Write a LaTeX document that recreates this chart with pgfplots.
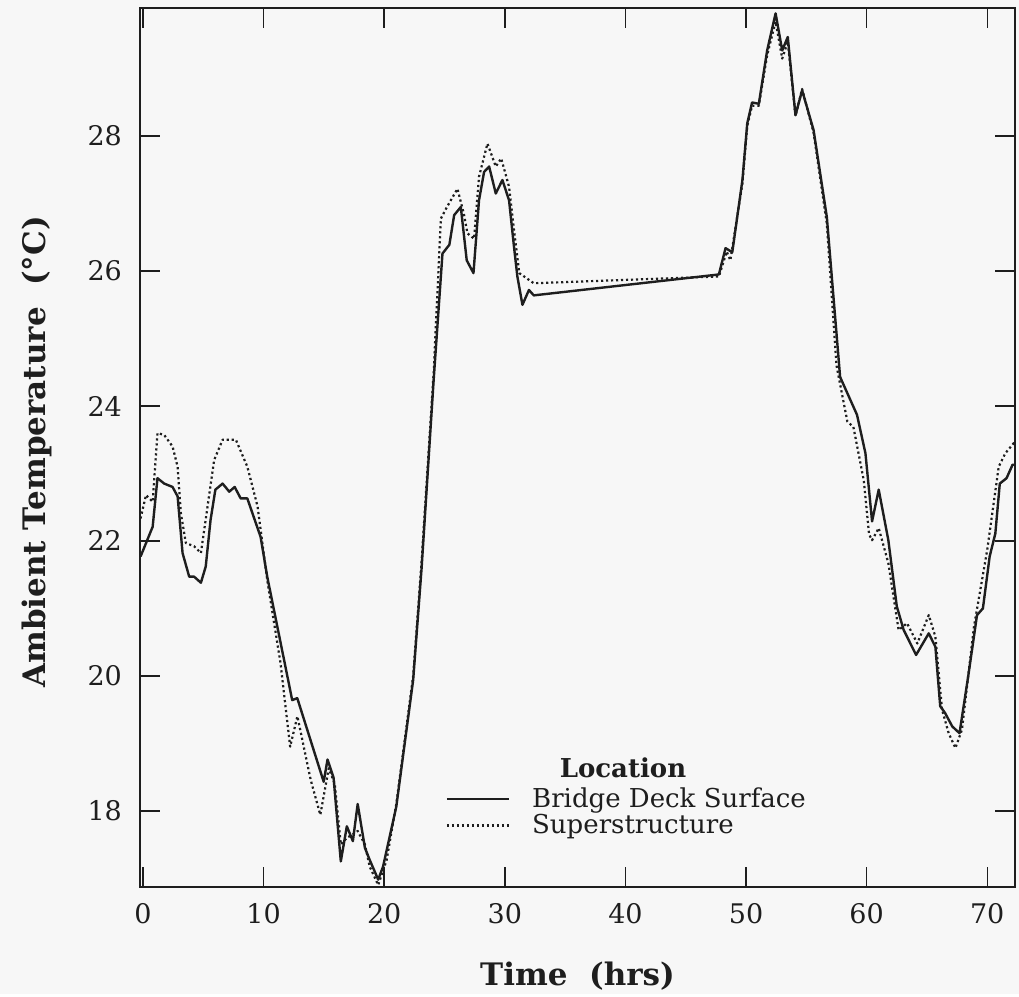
\documentclass[border=0pt]{standalone}
\usepackage{pgfplots}
\pgfplotsset{compat=1.18}
\usepackage{fontspec}
\setmainfont{DejaVu Serif}
\definecolor{bg}{RGB}{247,247,247}
\definecolor{ink}{RGB}{30,30,30}
\begin{document}
\begin{tikzpicture}
\fill[bg] (-70pt,-53.5pt) rectangle (439.5pt,443.5pt);
\begin{axis}[
  scale only axis,
  width=437.5pt, height=439.5pt,
  xmin=-0.25, xmax=72.3,
  ymin=16.87, ymax=29.9,
  xtick={0,10,...,70},
  ytick={18,20,...,28},
  tick align=inside,
  major tick length=10pt,
  every tick/.style={line width=0.75pt, ink},
  axis line style={line width=1.2pt, ink},
  /pgf/number format/assume math mode=true,
  tick label style={font=\fontsize{13.5}{15}\selectfont, ink},
  yticklabel style={xshift=-5.5pt},
  xticklabel style={yshift=-4.5pt},
  xlabel={Time\ \ (hrs)},
  ylabel={Ambient Temperature\ \ (°C)},
  label style={font=\fontsize{15.5}{17}\selectfont\bfseries, ink},
  xlabel style={at={(axis description cs:0.5,0)}, anchor=base, yshift=-49pt},
  ylabel style={at={(axis description cs:0,0.495)}, anchor=base, yshift=47pt},
  clip=true,
  legend image code/.code={\draw[#1] (0pt,0pt) -- (31pt,0pt);},
  legend style={draw=none, fill=none, at={(rel axis cs:0.349,0.118)}, anchor=north west,
    font=\fontsize{13}{14}\selectfont, inner sep=0pt, row sep=-2pt,
    cells={anchor=west}, text=ink,
    /tikz/every odd column/.append style={column sep=9pt}},
]
\addplot[ink, line width=1.2pt, line join=round] coordinates {
(-0.2,21.77) (0.8,22.21) (1.2,22.93) (1.76,22.85) (2.45,22.80) (2.87,22.66)
(3.28,21.82) (3.83,21.47) (4.24,21.47) (4.8,21.38) (5.2,21.62) (5.6,22.31)
(6.0,22.76) (6.6,22.85) (7.15,22.73) (7.6,22.80) (8.1,22.63) (8.65,22.63)
(9.75,22.06) (10.3,21.47) (12.37,19.64) (12.79,19.67) (14.98,18.43) (15.3,18.76)
(15.8,18.49) (16.4,17.25) (16.9,17.77) (17.4,17.55) (17.8,18.10) (18.4,17.45)
(18.8,17.27) (19.5,16.98) (19.9,17.17) (21.0,18.06) (22.4,19.94) (23.1,21.6)
(24.1,24.39) (24.83,26.26) (25.4,26.39) (25.8,26.83) (26.35,26.95) (26.84,26.16)
(27.4,25.97) (27.86,27.05) (28.28,27.47) (28.7,27.55) (29.25,27.15) (29.8,27.35)
(30.35,27.05) (30.76,26.36) (31.04,25.92) (31.46,25.50) (32.0,25.72) (32.4,25.64)
(47.75,25.95) (48.3,26.34) (48.86,26.28) (49.7,27.35) (50.1,28.19) (50.5,28.5)
(51.06,28.48) (51.75,29.27) (52.45,29.82) (53.0,29.27) (53.46,29.47) (54.1,28.31)
(54.65,28.68) (55.6,28.09) (56.7,26.8) (57.8,24.43) (59.2,23.87) (59.9,23.3)
(60.45,22.29) (61.0,22.76) (61.8,22.01) (62.5,21.03) (63.07,20.68) (64.1,20.31)
(65.15,20.63) (65.7,20.43) (66.1,19.55) (66.5,19.45) (67.1,19.25) (67.7,19.15)
(68.46,20.04) (69.15,20.9) (69.64,21.0) (70.2,21.77) (70.67,22.11) (71.04,22.85)
(71.6,22.93) (72.1,23.13) (72.4,23.13)
};
\addlegendentry{Bridge Deck Surface}
\addplot[ink, line width=1.1pt, dash pattern=on 1.1pt off 1.4pt, line join=round] coordinates {
(-0.3,22.26) (0.25,22.68) (0.8,22.58) (1.2,23.6) (1.76,23.57) (2.45,23.4)
(2.87,23.1) (3.14,22.41) (3.55,21.97) (4.24,21.92) (4.8,21.82) (5.35,22.51)
(5.9,23.2) (6.6,23.5) (7.7,23.5) (8.65,23.1) (9.5,22.51) (10.3,21.42)
(11.4,20.19) (12.2,18.95) (12.8,19.4) (13.9,18.46) (14.7,17.94) (15.4,18.63)
(15.9,18.4) (16.4,17.5) (16.9,17.6) (17.4,17.65) (17.8,17.7) (18.4,17.5)
(18.8,17.17) (19.5,16.9) (20.2,17.27) (21.0,18.1) (22.4,20.0) (23.1,21.7)
(24.1,24.5) (24.7,26.78) (25.2,26.95) (26.07,27.22) (26.6,26.85) (26.9,26.56)
(27.45,26.48) (27.86,27.4) (28.56,27.89) (29.25,27.55) (29.7,27.67) (30.35,27.25)
(30.76,26.61) (31.2,25.97) (32.0,25.87) (32.4,25.82) (47.75,25.92) (48.4,26.29)
(48.7,26.16) (49.7,27.3) (50.1,28.15) (50.5,28.45) (51.06,28.45) (51.75,29.2)
(52.45,29.7) (53.0,29.15) (53.46,29.4) (54.1,28.3) (54.65,28.7) (55.6,28.05)
(56.7,26.7) (57.5,24.6) (58.4,23.77) (58.9,23.69) (59.76,22.9) (60.2,22.1)
(60.45,22.01) (61.0,22.19) (61.8,21.67) (62.65,20.68) (63.35,20.78) (64.2,20.48)
(65.15,20.9) (65.7,20.58) (66.25,19.5) (66.8,19.15) (67.36,18.93) (67.9,19.2)
(68.9,20.73) (70.0,21.87) (70.95,23.1) (71.5,23.3) (72.2,23.45) (72.4,23.47)
};
\addlegendentry{Superstructure}
\node[font=\fontsize{13}{14}\selectfont\bfseries, text=ink, anchor=base] at (rel axis cs:0.552,0.125) {Location};
\end{axis}
\end{tikzpicture}
\end{document}
